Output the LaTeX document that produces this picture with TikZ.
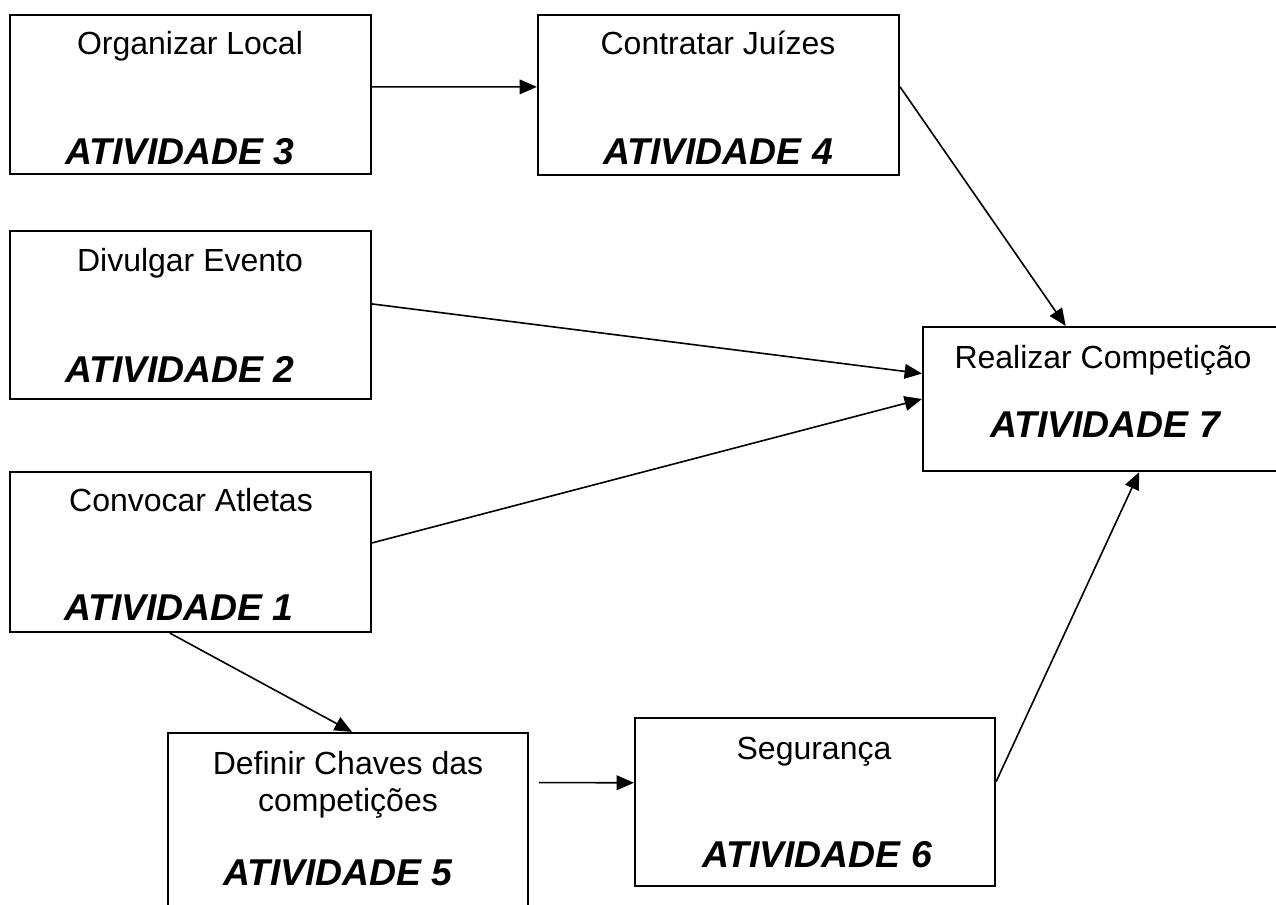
\documentclass[tikz,border=0pt]{standalone}
\usepackage{fontspec}
\setmainfont{Liberation Sans}
\usetikzlibrary{arrows.meta,calc,fit}

\begin{document}
\begin{tikzpicture}[x=0.75pt,y=-0.75pt,
  actbox/.style={draw=black,line width=1.6pt,inner sep=0pt,fill=none},
  title/.style={anchor=base,inner sep=0pt,font=\fontsize{24}{28}\selectfont,align=center},
  tag/.style={anchor=base,inner sep=0pt,font=\fontsize{28}{32}\selectfont\bfseries\itshape},
  link/.style={line width=1.2pt,-{Triangle[length=13pt,width=11pt]}},
  plain/.style={line width=1.2pt}
]
\useasboundingbox (0,0) rectangle (1276,905);
\clip (0,0) rectangle (1276,905);

% activity boxes
\node[actbox,fit={(10,15) (371,174)}]   (b3) {};
\node[actbox,fit={(538,15) (899,175)}]  (b4) {};
\node[actbox,fit={(10,231) (371,399)}]  (b2) {};
\node[actbox,fit={(923,327) (1283,471)}] (b7) {};
\node[actbox,fit={(10,472) (371,632)}]  (b1) {};
\node[actbox,fit={(168,733) (528,915)}] (b5) {};
\node[actbox,fit={(635,718) (995,886)}] (b6) {};

% box texts
\node[title] (t3) at (190,55)  {Organizar Local};
\node[tag]   (a3) at (180,165) {ATIVIDADE 3};
\node[title] (t4) at (718,55)  {Contratar Juízes};
\node[tag]   (a4) at (718,165) {ATIVIDADE 4};
\node[title] (t2) at (190,272) {Divulgar Evento};
\node[tag]   (a2) at (180,382) {ATIVIDADE 2};
\node[title] (t7) at (1103,368) {Realizar Competição};
\node[tag]   (a7) at (1105,437) {ATIVIDADE 7};
\node[title] (t1) at (191,511) {Convocar Atletas};
\node[tag]   (a1) at (179,620) {ATIVIDADE 1};
\node[title] (t5a) at (348,774) {Definir Chaves das};
\node[title] (t5b) at (348,811) {competições};
\node[tag]   (a5) at (338,885) {ATIVIDADE 5};
\node[title] (t6) at (814,759) {Segurança};
\node[tag]   (a6) at (817,867) {ATIVIDADE 6};

% precedence arrows
\draw[link] ($(b3.north east)!0.453!(b3.south east)$) -- ($(b4.north west)!0.45!(b4.south west)$);
\draw[link] ($(b4.north east)!0.45!(b4.south east)$) -- ($(b7.north west)!0.397!(b7.north east)$);
\draw[link] ($(b2.north east)!0.435!(b2.south east)$) -- ($(b7.north west)!0.326!(b7.south west)$);
\draw[link] ($(b1.north east)!0.444!(b1.south east)$) -- ($(b7.north west)!0.5!(b7.south west)$);
\draw[link] ($(b1.south west)!0.443!(b1.south east)$) -- ($(b5.north west)!0.511!(b5.north east)$);
\draw[link] ($(b5.north east)!0.275!(b5.south east)+(10,0)$) -- ($(b6.north west)!0.387!(b6.south west)$);
\draw[link] ($(b6.north east)!0.381!(b6.south east)$) -- ($(b7.south west)!0.6!(b7.south east)$);
\end{tikzpicture}
\end{document}
